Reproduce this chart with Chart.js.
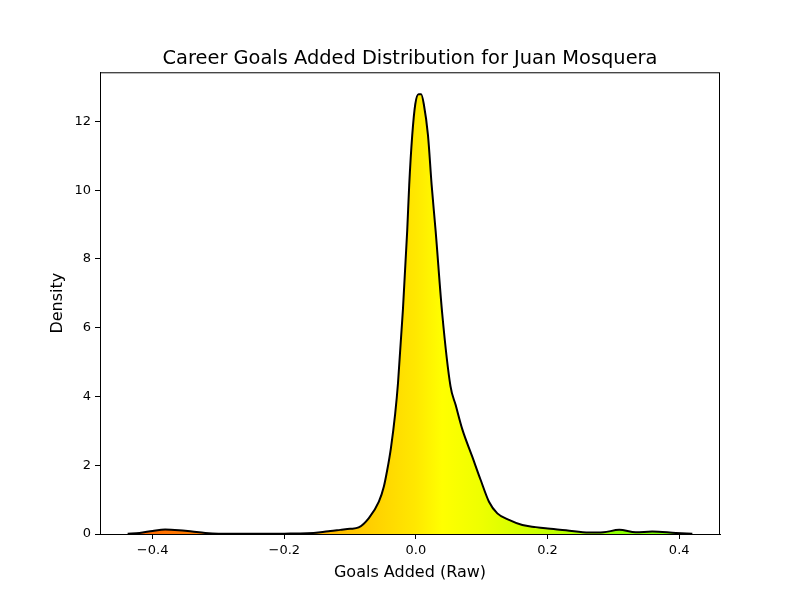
<!DOCTYPE html>
<html>
<head>
<meta charset="utf-8">
<script src="https://cdn.jsdelivr.net/npm/chart.js@4"></script>
<style>
  html, body { margin: 0; padding: 0; background: #fff; }
</style>
</head>
<body>
<canvas id="kde" width="800" height="600"></canvas>
<script>
// density curve (goals added, density)
const goalsAdded = [-0.438, -0.42, -0.40, -0.381, -0.36, -0.34, -0.32, -0.30, -0.25, -0.20,
  -0.165, -0.145, -0.13, -0.115, -0.10, -0.087, -0.0715, -0.0563, -0.0487, -0.0436,
  -0.038, -0.0315, -0.0272, -0.0198, -0.0132, -0.0102, -0.0056, -0.001, 0.004, 0.008,
  0.012, 0.0183, 0.0239, 0.030, 0.040, 0.0525, 0.0604, 0.0704, 0.0856, 0.0984,
  0.111, 0.1237, 0.1414, 0.1617, 0.182, 0.197, 0.228, 0.263, 0.285, 0.309,
  0.334, 0.359, 0.395, 0.42];
const density = [0.01, 0.03, 0.09, 0.13, 0.11, 0.07, 0.03, 0.01, 0.005, 0.01,
  0.02, 0.05, 0.09, 0.12, 0.15, 0.19, 0.46, 0.94, 1.38, 1.86,
  2.5, 3.5, 4.4, 6.51, 8.84, 10.15, 11.6, 12.5, 12.79, 12.79,
  12.5, 11.6, 10.15, 8.8, 6.4, 4.3, 3.75, 3.05, 2.25, 1.57,
  0.94, 0.6, 0.41, 0.26, 0.2, 0.165, 0.11, 0.04, 0.05, 0.12,
  0.05, 0.07, 0.03, 0.01];

const xTicks = [-0.4, -0.2, 0.0, 0.2, 0.4];
const yTicks = [0, 2, 4, 6, 8, 10, 12];

// fill colour along x
const gradAt = [-0.44, -0.38, -0.2, -0.1, -0.05, 0.0, 0.04, 0.1, 0.15, 0.22, 0.31, 0.42];
const gradColors = ['#ff6400', '#ff7200', '#ffa000', '#ffc400', '#ffd600', '#ffe800',
  '#ffff00', '#eeff00', '#d8ff00', '#bcff00', '#8cff00', '#70ff00'];

const X_MIN = -0.48, X_MAX = 0.462, Y_MAX = 13.43;

function fmtX(v) {
  const s = Math.abs(v).toFixed(1);
  return v < -1e-9 ? '\u2212' + s : s;
}

function fillGradient(context) {
  const chart = context.chart;
  const area = chart.chartArea;
  if (!area) return gradColors[5];
  const x = chart.scales.x;
  const x0 = x.getPixelForValue(gradAt[0]);
  const x1 = x.getPixelForValue(gradAt[gradAt.length - 1]);
  const g = chart.ctx.createLinearGradient(x0, 0, x1, 0);
  gradAt.forEach((v, i) => {
    g.addColorStop((x.getPixelForValue(v) - x0) / (x1 - x0), gradColors[i]);
  });
  return g;
}

const frame = {
  id: 'frame',
  afterDraw(chart) {
    const { ctx, chartArea: a } = chart;
    ctx.save();
    ctx.strokeStyle = '#000';
    ctx.lineWidth = 1;
    ctx.strokeRect(a.left + 0.5, a.top + 0.5, a.right - a.left - 1, a.bottom - a.top);
    ctx.restore();
  }
};

Chart.defaults.font.family = '"DejaVu Sans", sans-serif';
Chart.defaults.color = '#000';

new Chart(document.getElementById('kde'), {
  type: 'line',
  data: {
    datasets: [{
      data: goalsAdded.map((g, i) => ({ x: g, y: density[i] })),
      borderColor: '#000',
      borderWidth: 2,
      pointRadius: 0,
      cubicInterpolationMode: 'monotone',
      fill: 'origin',
      backgroundColor: fillGradient
    }]
  },
  options: {
    responsive: false,
    animation: false,
    devicePixelRatio: 1,
    layout: { padding: { left: 20, right: 0, top: 0, bottom: 0 } },
    plugins: {
      legend: { display: false },
      tooltip: { enabled: false },
      title: {
        display: true,
        text: 'Career Goals Added Distribution for Juan Mosquera',
        font: { size: 19.4, weight: 'normal' },
        padding: { top: 47, bottom: 2 }
      }
    },
    scales: {
      x: {
        type: 'linear',
        min: X_MIN,
        max: X_MAX,
        afterBuildTicks: s => { s.ticks = xTicks.map(v => ({ value: v })); },
        afterFit: s => { s.height = 66; },
        ticks: { callback: v => fmtX(v), font: { size: 13 }, padding: 4, maxRotation: 0 },
        grid: { drawOnChartArea: false, drawTicks: true, tickLength: 5, tickColor: '#000' },
        border: { display: true, color: '#000' },
        title: { display: true, text: 'Goals Added (Raw)', font: { size: 16 }, padding: { top: 0, bottom: 18 } }
      },
      y: {
        min: 0,
        max: Y_MAX,
        afterBuildTicks: s => { s.ticks = yTicks.map(v => ({ value: v })); },
        afterFit: s => { s.width = 80; },
        ticks: { font: { size: 13 }, padding: 4 },
        grid: { drawOnChartArea: false, drawTicks: true, tickLength: 5, tickColor: '#000' },
        border: { display: true, color: '#000' },
        title: { display: true, text: 'Density', font: { size: 16 }, padding: { top: 28, bottom: 0 } }
      },
      // empty right-hand box that keeps the plot area at matplotlib's margins
      spacer: {
        type: 'linear',
        position: 'right',
        afterFit: s => { s.width = 80; },
        ticks: { display: false },
        grid: { display: false },
        border: { display: false }
      }
    }
  },
  plugins: [frame]
});
</script>
</body>
</html>
